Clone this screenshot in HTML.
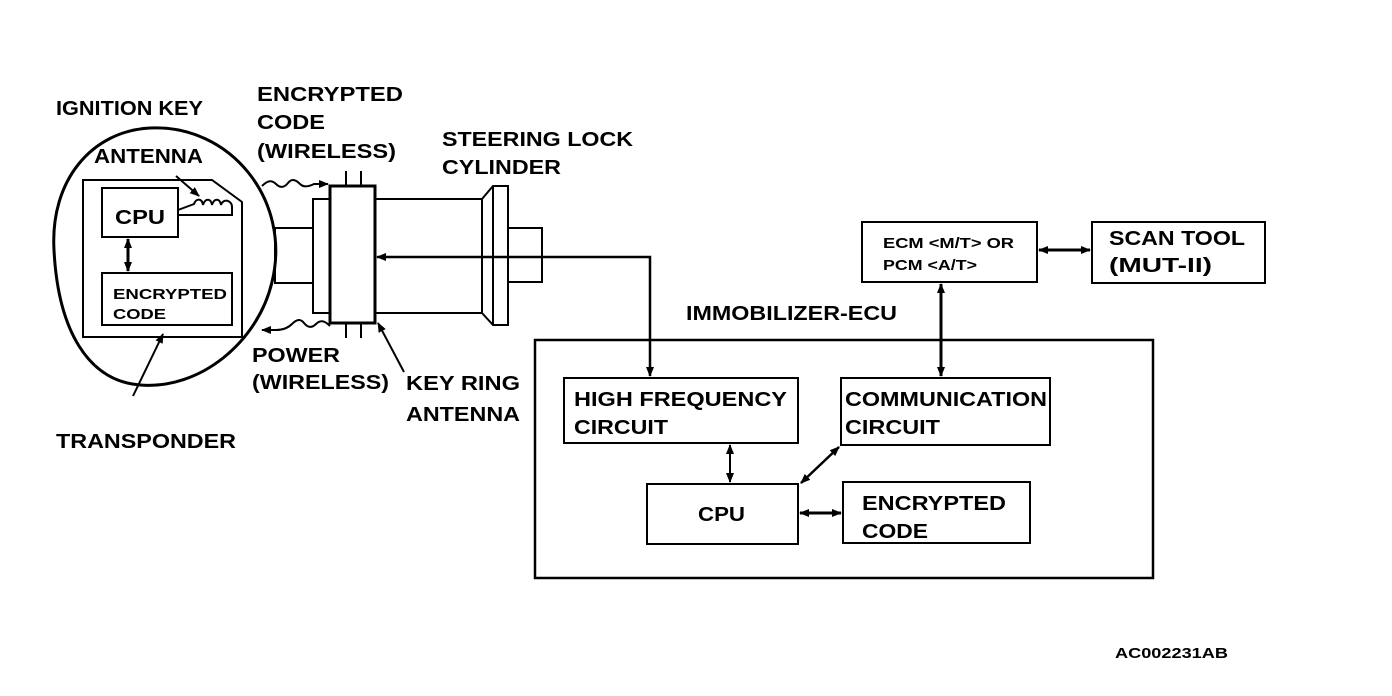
<!DOCTYPE html>
<html><head><meta charset="utf-8"><style>
html,body{margin:0;padding:0;background:#fff;}
svg{display:block;}
text{font-family:"Liberation Sans",Arial,sans-serif;font-weight:bold;fill:#000;}
</style></head><body>
<svg width="1392" height="696" viewBox="0 0 1392 696" xmlns="http://www.w3.org/2000/svg">
<defs>
<marker id="ah" markerWidth="10" markerHeight="8" refX="9" refY="4" orient="auto" markerUnits="userSpaceOnUse"><path d="M0,0 L10,4 L0,8 Z" fill="#000"/></marker>
<marker id="as" markerWidth="10" markerHeight="8" refX="1" refY="4" orient="auto" markerUnits="userSpaceOnUse"><path d="M10,0 L0,4 L10,8 Z" fill="#000"/></marker>
</defs>
<g fill="none" stroke="#000" stroke-width="2">
<!-- blob -->
<path d="M150 128 C230 124 292 200 272 282 C258 342 200 390 140 385 C88 381 58 330 54 250 C50 180 92 131 150 128 Z" stroke-width="3"/>
<!-- inner key board -->
<path d="M83 180 L212 180 L242 202 L242 337 L83 337 Z"/>
<rect x="102" y="188" width="76" height="49"/>
<rect x="102" y="273" width="130" height="52"/>
<line x1="128" y1="239" x2="128" y2="271" stroke-width="3" marker-start="url(#as)" marker-end="url(#ah)"/>
<!-- antenna coil -->
<path d="M178 210 L194 204 C196 198 202 198 203 205 C205 198 211 198 212 205 C214 198 220 198 221 205 C223 198 232 200 232 207 L232 215 L178 215"/>
<line x1="176" y1="176" x2="199" y2="196" marker-end="url(#ah)"/>
<!-- transponder arrow -->
<line x1="133" y1="396" x2="163" y2="334" marker-end="url(#ah)"/>
<!-- cylinder -->
<rect x="275" y="228" width="38" height="55"/>
<rect x="313" y="199" width="17" height="114"/>
<rect x="330" y="186" width="45" height="137" stroke-width="3"/>
<rect x="375" y="199" width="107" height="114"/>
<path d="M482 199 L493 186 L508 186 L508 325 L493 325 L482 313"/>
<line x1="493" y1="186" x2="493" y2="325"/>
<rect x="508" y="228" width="34" height="54"/>
<line x1="346" y1="171" x2="346" y2="186"/><line x1="361" y1="171" x2="361" y2="186"/>
<line x1="346" y1="323" x2="346" y2="338"/><line x1="361" y1="323" x2="361" y2="338"/>
<!-- wavy -->
<path d="M262 186 C268 180 272 180 276 184 C280 188 284 188 288 183 C292 178 296 180 300 184 C304 188 310 186 314 184 L328 184" marker-end="url(#ah)"/>
<path d="M330 326 C324 320 320 320 316 324 C312 328 308 328 304 323 C300 318 296 320 292 324 C288 328 282 330 276 330 L262 330" marker-end="url(#ah)"/>
<line x1="404" y1="372" x2="378" y2="323" marker-end="url(#ah)"/>
<!-- signal line -->
<path d="M650 376 L650 257 L377 257" marker-start="url(#as)" marker-end="url(#ah)" stroke-width="2.5"/>
<!-- ECU -->
<rect x="535" y="340" width="618" height="238" stroke-width="2.5"/>
<rect x="862" y="222" width="175" height="60"/>
<rect x="1092" y="222" width="173" height="61"/>
<line x1="1039" y1="250" x2="1090" y2="250" stroke-width="3" marker-start="url(#as)" marker-end="url(#ah)"/>
<line x1="941" y1="284" x2="941" y2="376" stroke-width="3" marker-start="url(#as)" marker-end="url(#ah)"/>
<rect x="564" y="378" width="234" height="65"/>
<rect x="841" y="378" width="209" height="67"/>
<rect x="647" y="484" width="151" height="60"/>
<rect x="843" y="482" width="187" height="61"/>
<line x1="730" y1="445" x2="730" y2="482" marker-start="url(#as)" marker-end="url(#ah)"/>
<line x1="839" y1="447" x2="801" y2="483" stroke-width="2.5" marker-start="url(#as)" marker-end="url(#ah)"/>
<line x1="800" y1="513" x2="841" y2="513" stroke-width="3" marker-start="url(#as)" marker-end="url(#ah)"/>
</g>
<g font-size="20">
<text x="56" y="115" textLength="147" lengthAdjust="spacingAndGlyphs">IGNITION KEY</text>
<text x="257" y="101" textLength="146" lengthAdjust="spacingAndGlyphs">ENCRYPTED</text>
<text x="257" y="129" textLength="68" lengthAdjust="spacingAndGlyphs">CODE</text>
<text x="257" y="158" textLength="139" lengthAdjust="spacingAndGlyphs">(WIRELESS)</text>
<text x="442" y="146" textLength="191" lengthAdjust="spacingAndGlyphs">STEERING LOCK</text>
<text x="442" y="174" textLength="119" lengthAdjust="spacingAndGlyphs">CYLINDER</text>
<text x="94" y="163" textLength="109" lengthAdjust="spacingAndGlyphs">ANTENNA</text>
<text x="115" y="224" textLength="50" lengthAdjust="spacingAndGlyphs">CPU</text>
<text x="252" y="362" textLength="88" lengthAdjust="spacingAndGlyphs">POWER</text>
<text x="252" y="389" textLength="137" lengthAdjust="spacingAndGlyphs">(WIRELESS)</text>
<text x="406" y="390" textLength="114" lengthAdjust="spacingAndGlyphs">KEY RING</text>
<text x="406" y="421" textLength="114" lengthAdjust="spacingAndGlyphs">ANTENNA</text>
<text x="56" y="448" textLength="180" lengthAdjust="spacingAndGlyphs">TRANSPONDER</text>
<text x="686" y="320" textLength="211" lengthAdjust="spacingAndGlyphs">IMMOBILIZER-ECU</text>
<text x="1109" y="245" textLength="136" lengthAdjust="spacingAndGlyphs">SCAN TOOL</text>
<text x="1109" y="272" textLength="103" lengthAdjust="spacingAndGlyphs">(MUT-II)</text>
<text x="574" y="406" textLength="213" lengthAdjust="spacingAndGlyphs">HIGH FREQUENCY</text>
<text x="574" y="434" textLength="94" lengthAdjust="spacingAndGlyphs">CIRCUIT</text>
<text x="845" y="406" textLength="202" lengthAdjust="spacingAndGlyphs">COMMUNICATION</text>
<text x="845" y="434" textLength="95" lengthAdjust="spacingAndGlyphs">CIRCUIT</text>
<text x="698" y="521" textLength="47" lengthAdjust="spacingAndGlyphs">CPU</text>
<text x="862" y="510" textLength="144" lengthAdjust="spacingAndGlyphs">ENCRYPTED</text>
<text x="862" y="538" textLength="66" lengthAdjust="spacingAndGlyphs">CODE</text>
</g>
<g font-size="15">
<text x="113" y="299" textLength="114" lengthAdjust="spacingAndGlyphs">ENCRYPTED</text>
<text x="113" y="319" textLength="53" lengthAdjust="spacingAndGlyphs">CODE</text>
<text x="883" y="248" textLength="131" lengthAdjust="spacingAndGlyphs">ECM &lt;M/T&gt; OR</text>
<text x="883" y="270" textLength="94" lengthAdjust="spacingAndGlyphs">PCM &lt;A/T&gt;</text>
<text x="1115" y="658" textLength="113" lengthAdjust="spacingAndGlyphs">AC002231AB</text>
</g>
</svg>
</body></html>
